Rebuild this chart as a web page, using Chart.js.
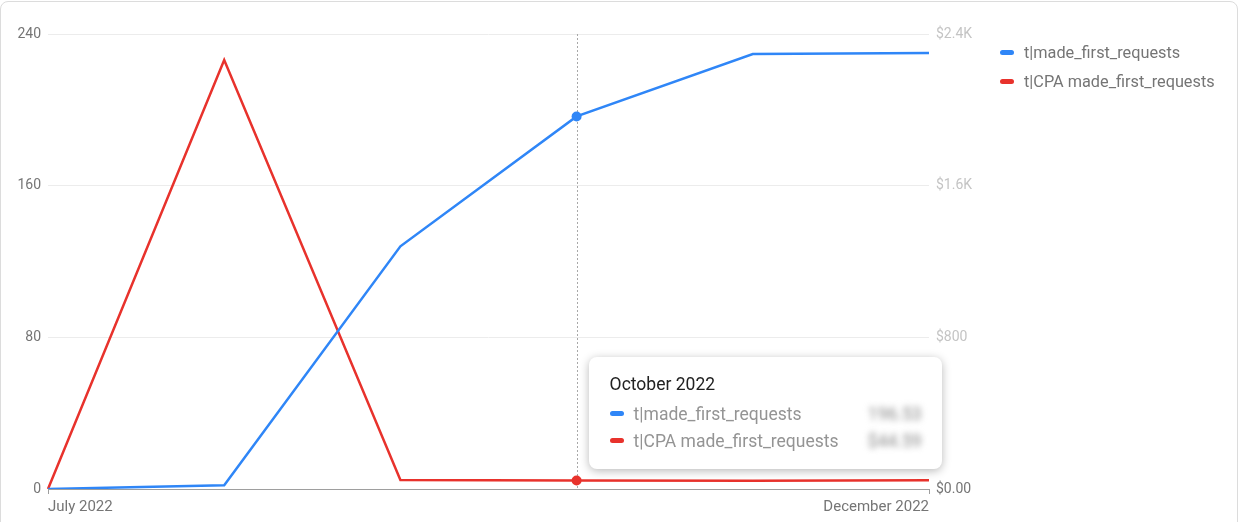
<!DOCTYPE html>
<html>
<head>
<meta charset="utf-8">
<script src="https://cdn.jsdelivr.net/npm/chart.js@4.4.1/dist/chart.umd.min.js"></script>
<style>
  html, body { margin: 0; padding: 0; background: #fff; overflow: hidden; }
  body { width: 1240px; height: 522px; position: relative; font-family: Roboto, "Noto Sans", sans-serif; }
  #card { position: absolute; left: 0; top: 1px; width: 1238px; height: 560px; border: 1px solid #dcdcdc; border-radius: 8px; box-sizing: border-box; }
  #wrap { position: absolute; left: 0; top: 0; width: 1240px; height: 522px; }
  #legend { position: absolute; left: 1000px; top: 38px; font-size: 16.3px; color: #757575; }
  .row { height: 29px; display: flex; align-items: center; }
  .mark { width: 14px; height: 5px; border-radius: 3px; margin-right: 10px; }
  #tip { position: absolute; display: none; width: 353px; height: 112px; background: #fff; border-radius: 8px;
         box-shadow: 0 2px 10px rgba(0,0,0,0.28); box-sizing: border-box; padding: 15px 20px 0 21px; font-size: 17.5px; }
  #tip .title { color: #212121; height: 24px; line-height: 24px; margin-bottom: 4px; }
  #tip .item { display: flex; align-items: center; height: 27px; color: #949494; }
  #tip .item .mark { margin-right: 10px; }
  #tip .val { margin-left: auto; filter: blur(3px); color: #888; }
</style>
</head>
<body>
<div id="card"></div>
<div id="wrap"><canvas id="chart"></canvas></div>
<div id="legend"></div>
<div id="tip"></div>
<script>
// months on the x axis
const months = ['July 2022', 'August 2022', 'September 2022', 'October 2022', 'November 2022', 'December 2022'];
// left axis series
const madeFirstRequests = [0, 2, 128, 196.53, 229.4, 230];
// right axis series (dollars)
const cpaMadeFirstRequests = [0, 2263, 47, 44.59, 43, 46];
const leftTicks = [0, 80, 160, 240];
const rightTicks = [0, 800, 1600, 2400];
const rightTickLabels = ['$0.00', '$800', '$1.6K', '$2.4K'];

const blue = '#2f86f7';
const red = '#e8322c';
const names = ['t|made_first_requests', 't|CPA made_first_requests'];
const activeIndex = 3;

// legend on the right
document.getElementById('legend').innerHTML = names.map((n, i) =>
    `<div class="row"><span class="mark" style="background:${i ? red : blue}"></span>${n}</div>`).join('');

// dotted line at the hovered month
const hoverLine = {
    id: 'hoverLine',
    beforeDatasetsDraw(chart) {
        const active = chart.getActiveElements();
        if (!active.length) return;
        const x = active[0].element.x;
        const { top, bottom } = chart.chartArea;
        const ctx = chart.ctx;
        ctx.save();
        ctx.strokeStyle = '#a8a8a8';
        ctx.lineWidth = 1;
        ctx.setLineDash([2, 2]);
        ctx.beginPath();
        ctx.moveTo(Math.round(x) + 0.5, top);
        ctx.lineTo(Math.round(x) + 0.5, bottom);
        ctx.stroke();
        ctx.restore();
    }
};

function externalTooltip(context) {
    const { chart, tooltip } = context;
    const el = document.getElementById('tip');
    if (tooltip.opacity === 0) { el.style.display = 'none'; return; }
    const i = tooltip.dataPoints[0].dataIndex;
    el.innerHTML = `<div class="title">${months[i]}</div>` +
        `<div class="item"><span class="mark" style="background:${blue}"></span>${names[0]}<span class="val">${madeFirstRequests[i].toFixed(2)}</span></div>` +
        `<div class="item"><span class="mark" style="background:${red}"></span>${names[1]}<span class="val">$${cpaMadeFirstRequests[i].toFixed(2)}</span></div>`;
    el.style.display = 'block';
    el.style.left = (tooltip.caretX + 12) + 'px';
    el.style.top = (chart.chartArea.bottom - 132) + 'px';
}

const tickFont = { family: 'Roboto', size: 14 };

const chart = new Chart(document.getElementById('chart'), {
    type: 'line',
    data: {
        labels: months,
        datasets: [{
            label: names[0],
            data: madeFirstRequests,
            borderColor: blue,
            backgroundColor: blue,
            yAxisID: 'y',
            borderWidth: 2.5,
            pointRadius: 0,
            pointHoverRadius: 5,
            pointHoverBorderWidth: 0,
            pointHoverBackgroundColor: blue,
            tension: 0
        }, {
            label: names[1],
            data: cpaMadeFirstRequests,
            borderColor: red,
            backgroundColor: red,
            yAxisID: 'y1',
            borderWidth: 2.5,
            pointRadius: 0,
            pointHoverRadius: 5,
            pointHoverBorderWidth: 0,
            pointHoverBackgroundColor: red,
            tension: 0
        }]
    },
    options: {
        responsive: true,
        maintainAspectRatio: false,
        animation: false,
        events: [],
        layout: { padding: { left: 17, right: 256, top: 34, bottom: 5 } },
        interaction: { mode: 'index', intersect: false },
        plugins: {
            legend: { display: false },
            tooltip: { enabled: false, external: externalTooltip }
        },
        scales: {
            x: {
                grid: {
                    drawOnChartArea: false,
                    tickLength: 5,
                    color: (c) => (c.index === 0 || c.index === months.length - 1) ? '#9e9e9e' : 'rgba(0,0,0,0)'
                },
                border: { color: '#9e9e9e' },
                ticks: {
                    autoSkip: false,
                    maxRotation: 0,
                    align: 'inner',
                    padding: 4,
                    color: '#757575',
                    font: { family: 'Roboto', size: 15 },
                    callback: (v, i) => (i === 0 || i === months.length - 1) ? months[i] : ''
                },
                afterFit: (s) => { s.height = 28; }
            },
            y: {
                position: 'left',
                min: 0,
                max: 240,
                afterBuildTicks: (s) => { s.ticks = leftTicks.map(v => ({ value: v })); },
                grid: { color: '#ececec', drawTicks: false },
                border: { display: false },
                ticks: { padding: 7, color: '#757575', font: tickFont },
                afterFit: (s) => { s.width = 31; }
            },
            y1: {
                position: 'right',
                min: 0,
                max: 2400,
                afterBuildTicks: (s) => { s.ticks = rightTicks.map(v => ({ value: v })); },
                grid: { display: false, drawTicks: false },
                border: { display: false },
                ticks: {
                    padding: 7,
                    font: tickFont,
                    color: (c) => c.index === 0 ? '#757575' : '#c4c4c4',
                    callback: (v) => rightTickLabels[rightTicks.indexOf(v)]
                },
                afterFit: (s) => { s.width = 55; }
            }
        }
    },
    plugins: [hoverLine]
});

// show the October hover state like the screenshot
const active = [{ datasetIndex: 0, index: activeIndex }, { datasetIndex: 1, index: activeIndex }];
chart.setActiveElements(active);
chart.tooltip.setActiveElements(active, { x: 0, y: 0 });
chart.update();
</script>
</body>
</html>
